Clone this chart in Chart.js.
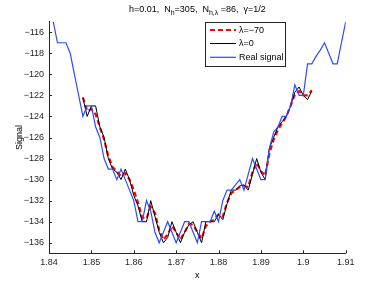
<!DOCTYPE html>
<html><head><meta charset="utf-8">
<script src="https://cdn.jsdelivr.net/npm/chart.js@4/dist/chart.umd.min.js"></script>
<style>html,body{margin:0;padding:0;background:#fff}#wrap{width:382px;height:287px;position:relative}</style>
</head><body><div id="wrap"><canvas id="c" width="382" height="287"></canvas></div>
<script>
// sampling grid
const X_START = 1.84;
const FIT_START = 1.848;
const X_STEP = 0.001;

// Real signal, samples from 1.840 to 1.910
const realSignal = [-113,-115,-117,-117,-117,-118,-120,-122,-124,-123,
  -123,-125,-126,-128,-129,-129,-130,-129,-130,-131,
  -132,-134,-134,-132,-133,-135,-136,-135,-134,-135,
  -136,-135,-134,-134,-135,-136,-134,-134,-134,-133,
  -134,-132,-131,-131,-130.5,-130,-131,-129.5,-128,-129,
  -130,-130,-127,-125.5,-125,-124,-124,-123,-121,-122,
  -122,-119,-119,-118.3,-117.7,-117,-118,-119,-119,-117,-115];

// λ=0 reconstruction, samples from 1.848 to 1.902
const lambda0 = [-122.2,-124,-123,-123,-125,-126,-128,-129,-129.3,-130,
  -129,-130,-131.5,-132.5,-134,-134,-132,-133.5,-135,-136,
  -135.5,-134,-135,-136,-135,-134.3,-134,-135,-136,-134,
  -134,-134,-133.3,-133.8,-132.3,-131,-131,-130.6,-130.5,-131,
  -129.5,-128,-129.3,-130,-127,-126,-125,-124.5,-124,-123,
  -121.7,-121.2,-122,-122.4,-121.6];

// λ=−70 reconstruction, samples from 1.848 to 1.902
const lambdaNeg70 = [-122.2,-123.5,-123.3,-123.8,-125,-126.2,-127.8,-128.8,-129.2,-129.7,
  -129.4,-130,-131,-132.2,-133.6,-133.7,-132.6,-133.2,-134.8,-135.7,
  -135.2,-134.4,-135,-135.7,-135,-134.2,-134.3,-135,-135.6,-134.4,
  -134,-133.8,-133.3,-133.5,-132.2,-131.3,-131,-130.7,-130.6,-130.7,
  -129.3,-128.4,-129.2,-129.6,-127.5,-126.2,-125.3,-124.6,-124,-123,
  -121.9,-121.6,-122,-122,-121.5];

const xTicks = [1.84,1.85,1.86,1.87,1.88,1.89,1.9,1.91];
const yTicks = [-136,-134,-132,-130,-128,-126,-124,-122,-120,-118,-116];
const seriesLabels = ['λ=−70','λ=0','Real signal'];
const titleParts = [['h=0.01,  N',0],['h',1],['=305,  N',0],['h,λ',1],[' =86,  γ=1/2',0]];
const xTitle = 'x', yTitle = 'Signal';

const toPts = (start, arr) => arr.map((v,i)=>({x:+(start+i*X_STEP).toFixed(4), y:v}));
const FONT = '"Liberation Sans", Arial, Helvetica, sans-serif';
const AX = '#262626';

const fmt = v => { const r = Math.round(v*100)/100; return (r<0?'\u2212':'')+String(Math.abs(r)); };

const extras = {
  id:'extras',
  afterDraw(chart){
    const ctx = chart.ctx, ca = chart.chartArea;
    const xs = chart.scales.x, ys = chart.scales.y;
    ctx.save();
    // inside ticks
    ctx.strokeStyle = AX; ctx.lineWidth = 1;
    ctx.beginPath();
    xTicks.forEach(v=>{const p=Math.round(xs.getPixelForValue(v))+0.5; ctx.moveTo(p,ca.bottom); ctx.lineTo(p,ca.bottom-3);});
    yTicks.forEach(v=>{const p=Math.round(ys.getPixelForValue(v))+0.5; ctx.moveTo(ca.left,p); ctx.lineTo(ca.left+3,p);});
    ctx.stroke();
    // title with subscripts
    const mainF = '9px '+FONT, subF = '7px '+FONT;
    let w = 0;
    titleParts.forEach(([t,s])=>{ctx.font = s?subF:mainF; w += ctx.measureText(t).width;});
    let x = (ca.left+ca.right)/2 - w/2;
    ctx.fillStyle = '#000'; ctx.textBaseline = 'alphabetic'; ctx.textAlign='left';
    titleParts.forEach(([t,s])=>{ctx.font = s?subF:mainF; ctx.fillText(t,x,s?14.8:11.8); x += ctx.measureText(t).width;});
    // legend box
    const bx=205.5, by=22.5, bw=80, bh=44;
    ctx.fillStyle='#fff'; ctx.fillRect(bx,by,bw,bh);
    ctx.strokeStyle=AX; ctx.lineWidth=1; ctx.strokeRect(bx,by,bw,bh);
    const order=[2,1,0]; // dataset indices for red, black, blue
    const rows=[30,43.5,57.3];
    order.forEach((di,k)=>{
      const ds = chart.data.datasets[di];
      ctx.save();
      ctx.strokeStyle = ds.borderColor; ctx.lineWidth = ds.borderWidth;
      ctx.setLineDash(ds.borderDash||[]);
      ctx.beginPath(); ctx.moveTo(210,rows[k]); ctx.lineTo(236,rows[k]); ctx.stroke();
      ctx.restore();
      ctx.fillStyle='#000'; ctx.font='9px '+FONT; ctx.textBaseline='middle';
      ctx.fillText(ds.label,239,rows[k]+0.5);
    });
    ctx.restore();
  }
};

new Chart(document.getElementById('c'), {
  type:'line',
  data:{datasets:[
    {label:seriesLabels[2], data:toPts(X_START,realSignal), borderColor:'rgb(45,75,255)', borderWidth:1.2, order:0},
    {label:seriesLabels[1], data:toPts(FIT_START,lambda0), borderColor:'#000000', borderWidth:1, order:1},
    {label:seriesLabels[0], data:toPts(FIT_START,lambdaNeg70), borderColor:'#ff0000', borderWidth:2.2, borderDash:[5,3], order:2}
  ]},
  options:{
    responsive:false, animation:false, devicePixelRatio:1,
    parsing:true,
    elements:{point:{radius:0}, line:{tension:0}},
    layout:{padding:{top:21.7,right:36.3,bottom:0,left:0}},
    plugins:{legend:{display:false}, title:{display:false}, tooltip:{enabled:false}},
    scales:{
      x:{type:'linear', min:1.84, max:1.91,
        afterBuildTicks:s=>{s.ticks = xTicks.map(v=>({value:v}));},
        afterFit:s=>{s.height=33.7;},
        ticks:{callback:v=>fmt(v), font:{size:9,family:FONT}, color:AX, padding:4, maxRotation:0, autoSkip:false},
        grid:{drawOnChartArea:false, drawTicks:false},
        border:{color:AX, width:1},
        title:{display:true, text:xTitle, font:{size:9,family:FONT}, color:'#000', padding:{top:0,bottom:5.6}}
      },
      y:{type:'linear', min:-137, max:-115,
        afterBuildTicks:s=>{s.ticks = yTicks.map(v=>({value:v}));},
        afterFit:s=>{s.width=49;},
        ticks:{callback:v=>fmt(v), font:{size:9,family:FONT}, color:AX, padding:5, autoSkip:false},
        grid:{drawOnChartArea:false, drawTicks:false},
        border:{color:AX, width:1},
        title:{display:true, text:yTitle, font:{size:9,family:FONT}, color:'#000', padding:{top:14.6,bottom:0}}
      }
    }
  },
  plugins:[extras]
});
</script></body></html>
